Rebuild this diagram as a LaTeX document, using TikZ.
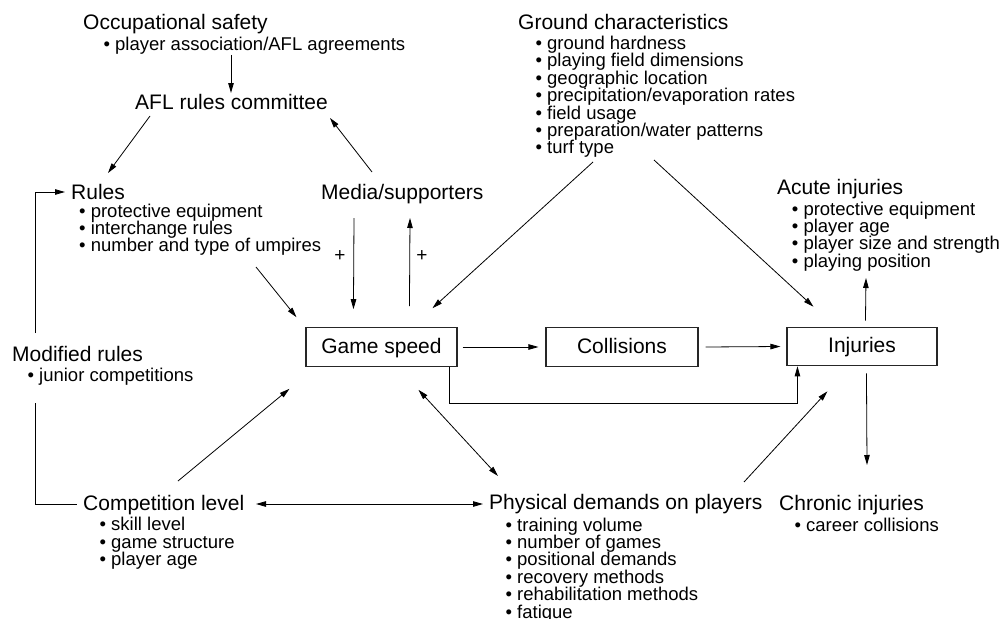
\documentclass[tikz,border=0pt]{standalone}
\usepackage{fontspec}
\setmainfont{Liberation Sans}
\usetikzlibrary{arrows.meta,calc}
\newcommand{\bitem}[1]{\hbox{\textbullet\ #1}}
\newcommand{\blist}[1]{\vtop{\baselineskip=17.4pt\lineskiplimit=-100pt\lineskip=0pt #1}}
\tikzset{
  head/.style={inner sep=0pt, anchor=base west, font=\fontsize{21}{24}\selectfont},
  blt/.style={inner sep=0pt, anchor=base west, font=\fontsize{18.5}{17.4}\selectfont},
  boxnode/.style={draw=black!85, line width=1.1pt, minimum height=38.5pt, inner sep=0pt, text height=16pt, text depth=4pt, font=\fontsize{21}{24}\selectfont},
  tip/.tip={Triangle[length=10pt,width=5.5pt]},
  arr/.style={-tip, line width=0.8pt},
  darr/.style={tip-tip, line width=0.8pt},
  ln/.style={line width=0.8pt},
  plus/.style={inner sep=0pt, font=\fontsize{19}{20}\selectfont}
}
\begin{document}
\begin{tikzpicture}[x=1pt,y=-1pt]
\fill[white] (0,0) rectangle (1000,618);
\useasboundingbox (0,0) rectangle (1000,618);

% text blocks
\node[head] (occ) at (83,30) {Occupational safety};
\node[blt] (occb) at (103.4,50) {\blist{\bitem{player association/AFL agreements}}};
\node[head] (afl) at (135,109.5) {AFL rules committee};
\node[head] (rules) at (71,199) {Rules};
\node[blt] (rulesb) at (79,217) {\blist{\bitem{protective equipment}\bitem{interchange rules}\bitem{number and type of umpires}}};
\node[head] (media) at (321,199) {Media/supporters};
\node[head] (ground) at (518,30) {Ground characteristics};
\node[blt] (groundb) at (535.4,49.5) {\blist{\bitem{ground hardness}\bitem{playing field dimensions}\bitem{geographic location}\bitem{precipitation/evaporation rates}\bitem{field usage}\bitem{preparation/water patterns}\bitem{turf type}}};
\node[head] (acute) at (777,194.5) {Acute injuries};
\node[blt] (acuteb) at (791.7,215) {\blist{\bitem{protective equipment}\bitem{player age}\bitem{player size and strength}\bitem{playing position}}};
\node[head] (modr) at (12,361.5) {Modified rules};
\node[blt] (modrb) at (27.4,381.7) {\blist{\bitem{junior competitions}}};
\node[head] (comp) at (83,510.5) {Competition level};
\node[blt] (compb) at (99.4,530.7) {\blist{\bitem{skill level}\bitem{game structure}\bitem{player age}}};
\node[head] (phys) at (489,509.5) {Physical demands on players};
\node[blt] (physb) at (505.4,531) {\blist{\bitem{training volume}\bitem{number of games}\bitem{positional demands}\bitem{recovery methods}\bitem{rehabilitation methods}\bitem{fatigue}}};
\node[head] (chron) at (779,510) {Chronic injuries};
\node[blt] (chronb) at (794.4,531) {\blist{\bitem{career collisions}}};

% boxes
\node[boxnode, minimum width=151pt] (gs) at (381.5,347) {Game speed};
\node[boxnode, minimum width=152pt] (col) at (622,347) {Collisions};
\node[boxnode, minimum width=150pt] (inj) at (862,346.5) {Injuries};

% plus labels
\node[plus] (p1) at (340,256) {+};
\node[plus] (p2) at (422,256) {+};

% connectors
\draw[arr] ($(occb.base west)+(127.6,5)$) -- ($(afl.base west)+(96,-16.5)$);
\draw[arr] ($(afl.base west)+(15,6.5)$) -- ($(rules.base west)+(37,-26)$);
\draw[arr] ($(media.base west)+(51,-27)$) -- ($(afl.base west)+(195,8.5)$);
\draw[arr] ($(rulesb.base west)+(177,50)$) -- ($(gs.north west)+(-9,-10)$);
\draw[arr] ($(media.base west)+(33,19)$) -- ($(gs.north west)+(48,-18)$);
\draw[arr] ($(gs.north west)+(104,-21)$) -- ($(media.base west)+(89,19)$);
\draw[arr] ($(groundb.base west)+(57.6,112.5)$) -- ($(gs.north west)+(127,-19)$);
\draw[arr] ($(groundb.base west)+(118.6,110.5)$) -- ($(inj.north west)+(27,-20)$);
\draw[arr] ($(inj.north west)+(79,-6)$) -- ($(acuteb.base west)+(74.3,63)$);
\draw[arr] ($(gs.east)+(5,0)$) -- ($(col.west)+(-7,0)$);
\draw[arr] ($(col.east)+(7,0)$) -- ($(inj.west)+(-6,0)$);
\draw[arr] ($(gs.south east)+(-8,0)$) -- ++(0,37) -| ($(inj.south west)+(11,0)$);
\draw[arr] ($(inj.south west)+(80,7)$) -- ($(chron.base west)+(88,-45)$);
\draw[arr] ($(phys.base west)+(255,-27.5)$) -- ($(inj.south west)+(41,25)$);
\draw[darr] ($(gs.south west)+(113,23)$) -- ($(phys.base west)+(9,-33.5)$);
\draw[arr] ($(comp.base west)+(95,-29.5)$) -- ($(gs.south west)+(-16,22)$);
\draw[darr] ($(comp.base west)+(173,-6.5)$) -- ($(phys.base west)+(-6,-5.5)$);
\draw[arr] ($(modr.base west)+(23,-28.5)$) |- ($(rules.base west)+(-6,-7)$);
\draw[ln] ($(modrb.base west)+(7.6,21.3)$) |- ($(comp.base west)+(-6,-6.5)$);
\end{tikzpicture}
\end{document}
